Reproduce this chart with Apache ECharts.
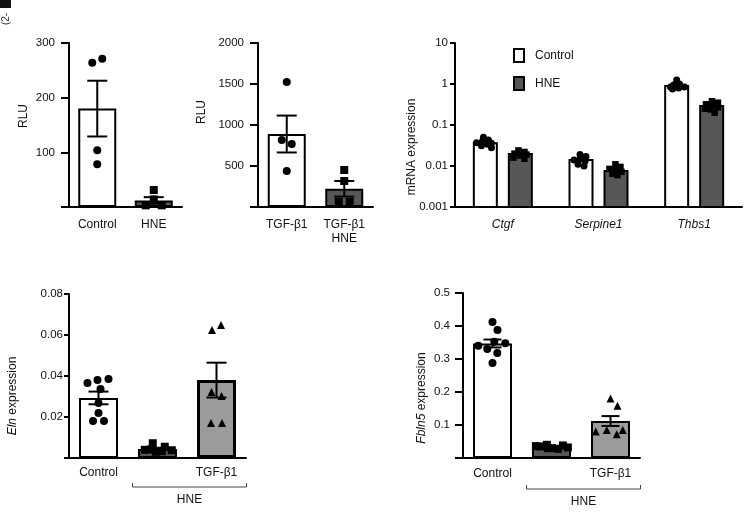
<!DOCTYPE html>
<html><head><meta charset="utf-8">
<script src="https://cdn.jsdelivr.net/npm/echarts@6/dist/echarts.min.js"></script>
<style>html,body{margin:0;padding:0;background:#fff}#c{width:752px;height:515px}</style>
</head><body><div id="c"></div>
<script>
// ---------- DATA ----------
// Panel A (RLU)
const aCats = ['Control', 'HNE'];
const aMeans = [180, 12];
const aSems = [51, 6];
const aPoints = [[264, 271, 104, 78], [31, 14, 3, 3]];
const aTicks = [0, 100, 200, 300];
// Panel B (RLU)
const bCats = ['TGF-β1', 'TGF-β1\nHNE'];
const bMeans = [890, 222];
const bSems = [225, 95];
const bPoints = [[1524, 817, 768, 439], [451, 317, 61, 61]];
const bTicks = [0, 500, 1000, 1500, 2000];
// Panel C (mRNA expression, log)
const cCats = ['Ctgf', 'Serpine1', 'Thbs1'];
const cCtrlMeans = [0.036, 0.014, 0.89];
const cHneMeans = [0.0195, 0.0076, 0.29];
const cCtrlPoints = [
  [0.05, 0.043, 0.04, 0.037, 0.034, 0.031, 0.028, 0.036],
  [0.019, 0.017, 0.015, 0.013, 0.011, 0.01, 0.014],
  [1.25, 1.0, 0.95, 0.85, 0.8, 0.75, 0.9, 0.85]
];
const cHnePoints = [
  [0.024, 0.022, 0.02, 0.018, 0.016, 0.015, 0.021, 0.019],
  [0.011, 0.0095, 0.008, 0.0072, 0.0065, 0.006, 0.0085],
  [0.38, 0.35, 0.3, 0.27, 0.24, 0.2, 0.32, 0.25]
];
const cTicks = [0.001, 0.01, 0.1, 1, 10];
// Panel D (Eln expression)
const dCats = ['Control', '', 'TGF-β1'];
const dMeans = [0.0293, 0.0044, 0.038];
const dSems = [0.0031, 0.0006, 0.0085];
const dPoints = [
  [0.038, 0.0337, 0.0366, 0.0385, 0.0268, 0.022, 0.018, 0.018],
  [0.003, 0.0055, 0.004, 0.0072, 0.0038, 0.0033, 0.0042],
  [0.0624, 0.0649, 0.0322, 0.0302, 0.0171, 0.0171]
];
const dTicks = [0, 0.02, 0.04, 0.06, 0.08];
// Panel E (Fbln5 expression)
const eCats = ['Control', '', 'TGF-β1'];
const eMeans = [0.347, 0.033, 0.112];
const eSems = [0.012, 0.003, 0.015];
const ePoints = [
  [0.412, 0.388, 0.352, 0.348, 0.33, 0.318, 0.288, 0.34],
  [0.03, 0.038, 0.035, 0.04, 0.028, 0.032, 0.036, 0.03],
  [0.18, 0.158, 0.085, 0.072, 0.08, 0.085]
];
const eTicks = [0, 0.1, 0.2, 0.3, 0.4, 0.5];
const bracketLabel = 'HNE';
const legendNames = ['Control', 'HNE'];

// ---------- STYLE ----------
const FONT = '"Liberation Sans", Arial, Helvetica, sans-serif';
const WHITE = '#ffffff', DARK = '#575757', LIGHT = '#9b9b9b';

const chart = echarts.init(document.getElementById('c'), null, {renderer: 'canvas'});

const grids = [
  {left: 69, top: 43, width: 113, height: 164},
  {left: 258, top: 43, width: 115, height: 164},
  {left: 455, top: 43, width: 287, height: 164},
  {left: 69, top: 294, width: 177, height: 164},
  {left: 463, top: 293, width: 177, height: 165}
].map(g => Object.assign({outerBoundsMode: 'none', containLabel: false}, g));

function xAx(i, cats, margin, italic) {
  return {
    type: 'category', gridIndex: i, data: cats,
    axisLine: {show: true, lineStyle: {color: '#000', width: 2}},
    axisTick: {show: false},
    axisLabel: {interval: 0, margin: margin, fontSize: 12, color: '#111', fontFamily: FONT,
      lineHeight: 14, fontStyle: italic ? 'italic' : 'normal'},
    splitLine: {show: false}
  };
}
function yAx(i, ticks, tickLen, margin, hideZero) {
  return {
    type: 'value', gridIndex: i, min: ticks[0], max: ticks[ticks.length - 1],
    interval: ticks[1] - ticks[0],
    axisLine: {show: true, lineStyle: {color: '#000', width: 2}},
    axisTick: {show: true, length: tickLen, lineStyle: {color: '#000', width: 2}},
    axisLabel: {margin: margin, fontSize: 11.5, color: '#111', fontFamily: FONT,
      formatter: v => (hideZero && v === 0) ? '' : String(+v.toFixed(4))},
    splitLine: {show: false}
  };
}
const xAxes = [
  xAx(0, aCats, 11), xAx(1, bCats, 11), xAx(2, cCats, 11, true),
  xAx(3, dCats, 8), xAx(4, eCats, 9)
];
const yAxes = [
  yAx(0, aTicks, 8, 14, true), yAx(1, bTicks, 8, 14, true),
  {
    type: 'log', gridIndex: 2, logBase: 10, min: cTicks[0], max: cTicks[cTicks.length - 1],
    axisLine: {show: true, lineStyle: {color: '#000', width: 2}},
    axisTick: {show: true, length: 5, lineStyle: {color: '#000', width: 2}},
    minorTick: {show: false},
    axisLabel: {margin: 7, fontSize: 11.5, color: '#111', fontFamily: FONT,
      formatter: v => String(parseFloat((+v).toPrecision(2)))},
    splitLine: {show: false}
  },
  yAx(3, dTicks, 5, 6, true), yAx(4, eTicks, 8, 13, true)
];

function barSeries(i, means, colors, width, bw) {
  return {
    type: 'bar', name: 'bars' + i, xAxisIndex: i, yAxisIndex: i, barWidth: width, z: 2,
    data: means.map((m, k) => ({value: m, itemStyle: {color: colors[k], borderWidth: bw ? bw[k] : 2}})),
    itemStyle: {borderColor: '#000', borderWidth: 2},
    emphasis: {disabled: true}, silent: true
  };
}
function errSeries(i, means, sems, capW) {
  return {
    type: 'custom', name: 'err' + i, xAxisIndex: i, yAxisIndex: i, z: 6, silent: true,
    encode: {x: 0, y: [1, 2]},
    data: means.map((m, k) => [k, m - sems[k], m + sems[k]]),
    renderItem(params, api) {
      const lo = api.coord([api.value(0), api.value(1)]);
      const hi = api.coord([api.value(0), api.value(2)]);
      const x = lo[0], h = capW / 2;
      const st = {stroke: '#000', lineWidth: 2};
      return {type: 'group', children: [
        {type: 'line', shape: {x1: x, y1: lo[1], x2: x, y2: hi[1]}, style: st},
        {type: 'line', shape: {x1: x - h, y1: lo[1], x2: x + h, y2: lo[1]}, style: st},
        {type: 'line', shape: {x1: x - h, y1: hi[1], x2: x + h, y2: hi[1]}, style: st}
      ]};
    }
  };
}
function cBarSeries(name, means, fill, off, w) {
  return {
    type: 'custom', name: name, xAxisIndex: 2, yAxisIndex: 2, z: 2, silent: true,
    encode: {x: 0, y: 1},
    itemStyle: {color: fill, borderColor: '#000', borderWidth: 2},
    data: means.map((m, k) => [k, m]),
    renderItem(params, api) {
      const top = api.coord([api.value(0), api.value(1)]);
      const base = api.coord([api.value(0), cTicks[0]]);
      return {type: 'rect', shape: {x: top[0] + off - w / 2, y: top[1], width: w, height: base[1] - top[1]},
        style: {fill: fill, stroke: '#000', lineWidth: 2}};
    }
  };
}

// horizontal spread (pixel offsets) so points with similar values sit side by side
function swarm(ys, sx, sy, maxOff) {
  const placed = [];
  const offs = new Array(ys.length).fill(0);
  const cands = [0];
  for (let d = 1; d <= maxOff; d++) { cands.push(d, -d); }
  ys.forEach((y, i) => {
    let best = 0, bestScore = -Infinity;
    for (const dx of cands) {
      let md = Infinity;
      for (const p of placed) {
        const nx = (dx - p[0]) / sx, ny = (y - p[1]) / sy;
        md = Math.min(md, Math.hypot(nx, ny));
      }
      if (md >= 1) { best = dx; bestScore = Infinity; break; }
      if (md > bestScore + 0.05) { bestScore = md; best = dx; }
    }
    offs[i] = best;
    placed.push([best, y]);
  });
  // centre rows of points that share nearly the same height
  const idx = ys.map((y, i) => i).sort((a, b) => ys[a] - ys[b]);
  let row = [idx[0]];
  const flush = () => {
    if (row.length > 1) {
      const m = row.reduce((s, k) => s + offs[k], 0) / row.length;
      row.forEach(k => { offs[k] -= m; });
    }
  };
  for (let n = 1; n < idx.length; n++) {
    if (ys[idx[n]] - ys[idx[n - 1]] < sy * 0.7) row.push(idx[n]);
    else { flush(); row = [idx[n]]; }
  }
  flush();
  return offs;
}

function scatterSeries(i, groups, symbols, size, sx, sy, maxOff, baseOff, name) {
  const data = [];
  groups.forEach((vals, k) => {
    const ys = vals.map(v => chart.convertToPixel({yAxisIndex: i}, v));
    const offs = swarm(ys, sx, sy, maxOff);
    vals.forEach((v, j) => {
      data.push({value: [k, v], symbol: symbols[k], symbolOffset: [offs[j] + (baseOff || 0), 0]});
    });
  });
  return {
    type: 'scatter', name: name || ('pts' + i), xAxisIndex: i, yAxisIndex: i, z: 4, silent: true,
    symbolSize: size, itemStyle: {color: '#000', opacity: 1}, data: data
  };
}

function yTitle(x, y, text, rich) {
  return {type: 'text', x: x, y: y, rotation: Math.PI / 2, silent: true,
    style: {text: text, fontSize: 12, fontFamily: FONT, fill: '#111', align: 'center', verticalAlign: 'middle',
      rich: rich}};
}

function baseSeries() {
  return [
    barSeries(0, aMeans, [WHITE, DARK], 38),
    barSeries(1, bMeans, [WHITE, DARK], 38),
    cBarSeries(legendNames[0], cCtrlMeans, WHITE, -17.5, 23),
    cBarSeries(legendNames[1], cHneMeans, DARK, 17.5, 23),
    barSeries(3, dMeans, [WHITE, DARK, LIGHT], 39, [2, 2, 3]),
    barSeries(4, eMeans, [WHITE, DARK, LIGHT], 39)
  ];
}
function errs() {
  return [
    errSeries(0, aMeans, aSems, 20),
    errSeries(1, bMeans, bSems, 20),
    errSeries(3, dMeans, dSems, 20),
    errSeries(4, eMeans, eSems, 18)
  ];
}

const option = {
  animation: false,
  backgroundColor: '#fff',
  textStyle: {fontFamily: FONT},
  grid: grids, xAxis: xAxes, yAxis: yAxes,
  legend: {
    show: true, orient: 'vertical', left: 513, top: 48, padding: 0,
    itemWidth: 10, itemHeight: 13, itemGap: 13,
    icon: 'rect', selectedMode: false,
    textStyle: {fontSize: 12, color: '#111', fontFamily: FONT, padding: [0, 0, 0, 6]},
    data: [
      {name: legendNames[0], itemStyle: {color: WHITE, borderColor: '#000', borderWidth: 2}},
      {name: legendNames[1], itemStyle: {color: DARK, borderColor: '#000', borderWidth: 2}}
    ]
  },
  series: baseSeries().concat(errs())
};
chart.setOption(option);

// second pass: points with offsets computed through the axes
const pts = [
  scatterSeries(0, aPoints, ['circle', 'rect'], 8, 11, 8, 14),
  scatterSeries(1, bPoints, ['circle', 'rect'], 8, 11, 8, 14),
  scatterSeries(2, cCtrlPoints, ['circle', 'circle', 'circle'], 7, 6, 4, 8, -17.5, 'ptsC1'),
  scatterSeries(2, cHnePoints, ['rect', 'rect', 'rect'], 6.5, 6, 4, 8, 17.5, 'ptsC2'),
  scatterSeries(3, dPoints, ['circle', 'rect', 'triangle'], 8, 10.5, 9, 16),
  scatterSeries(4, ePoints, ['circle', 'rect', 'triangle'], 8, 10.5, 9, 16)
];

// bracket under the HNE groups
function bracket(i, from, to, dy) {
  const x1 = chart.convertToPixel({xAxisIndex: i}, from) - 25;
  const x2 = chart.convertToPixel({xAxisIndex: i}, to) + 30;
  const y0 = chart.convertToPixel({yAxisIndex: i}, 0) + dy;
  return [
    {type: 'polyline', silent: true, shape: {points: [[x1, y0 - 4], [x1, y0], [x2, y0], [x2, y0 - 4]]},
      style: {stroke: '#444', lineWidth: 1, fill: null}},
    {type: 'text', x: (x1 + x2) / 2, y: y0 + 13, silent: true,
      style: {text: bracketLabel, fontSize: 12, fontFamily: FONT, fill: '#111', align: 'center', verticalAlign: 'middle'}}
  ];
}
const italic = {i: {fontStyle: 'italic', fontSize: 12, fontFamily: FONT, fill: '#111'},
                n: {fontSize: 12, fontFamily: FONT, fill: '#111'}};
const graphics = [
  {type: 'rect', shape: {x: 0, y: 0, width: 11, height: 8}, style: {fill: '#111'}, silent: true},
  {type: 'text', x: 6, y: 19, rotation: Math.PI / 2, silent: true,
    style: {text: '(2-', fontSize: 10, fontFamily: FONT, fill: '#333', align: 'center', verticalAlign: 'middle'}},
  yTitle(24, 116, 'RLU'),
  yTitle(202, 112, 'RLU'),
  yTitle(412, 147, 'mRNA expression'),
  yTitle(13, 396, '{i|Eln} {n|expression}', italic),
  yTitle(422, 398, '{i|Fbln5} {n|expression}', italic)
].concat(bracket(3, 1, 2, 29), bracket(4, 1, 2, 31));

chart.setOption({
  series: baseSeries().concat(errs(), pts),
  graphic: graphics
});
</script>
</body></html>
